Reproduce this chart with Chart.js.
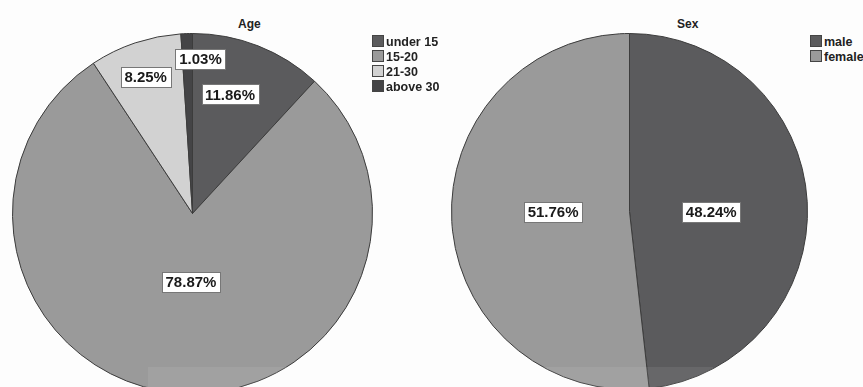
<!DOCTYPE html>
<html>
<head>
    <title>Age and Sex</title>
    <script src="https://cdn.jsdelivr.net/npm/chart.js"></script>
    <style>
        body {
            margin: 0;
            width: 863px;
            height: 387px;
            overflow: hidden;
            background: #fdfdfd;
            font-family: "Liberation Sans", Arial, sans-serif;
        }

        .pie {
            position: absolute;
        }

        .title {
            position: absolute;
            font-size: 12px;
            font-weight: bold;
            color: #222;
        }

        .legend {
            position: absolute;
            font-size: 12.5px;
            font-weight: bold;
            color: #222;
            line-height: 15px;
            white-space: nowrap;
        }

        .legend span.box {
            display: inline-block;
            width: 10px;
            height: 10px;
            border: 1px solid #444;
            margin-right: 2px;
            vertical-align: -1px;
        }

        .band {
            position: absolute;
            left: 148px;
            top: 367px;
            width: 565px;
            height: 20px;
            background: rgba(255, 255, 255, 0.08);
        }
    </style>
</head>
<body>
    <div class="pie" style="left:12px; top:33px; width:361px; height:361px;"><canvas id="age"></canvas></div>
    <div class="pie" style="left:451px; top:33px; width:357px; height:357px;"><canvas id="sex"></canvas></div>
    <div class="title" style="left:238px; top:17px;">Age</div>
    <div class="title" style="left:677px; top:17px;">Sex</div>
    <div class="legend" id="ageLegend" style="left:372px; top:35px;"></div>
    <div class="legend" id="sexLegend" style="left:810px; top:35px;"></div>
    <div class="band"></div>

    <script>
        const ageLabels = ['under 15', '15-20', '21-30', 'above 30'];
        const ageValues = [11.86, 78.87, 8.25, 1.03];
        const ageColors = ['#5b5b5d', '#9a9a9a', '#d2d2d2', '#444446'];

        const sexLabels = ['male', 'female'];
        const sexValues = [48.24, 51.76];
        const sexColors = ['#5b5b5d', '#9a9a9a'];

        // where each percentage box sits: fraction of radius along the slice middle, plus a small nudge
        const ageLabelPos = [{ r: 0.71, dx: -9, dy: 0 }, { r: 0.38, dx: 4, dy: 0 }, { r: 0.8, dx: -1, dy: 0 }, { r: 0.86, dx: 13, dy: 0 }];
        const sexLabelPos = [{ r: 0.46, dx: 0, dy: 5 }, { r: 0.43, dx: 0, dy: -4 }];

        const boxLabels = {
            id: 'boxLabels',
            afterDatasetsDraw(chart, args, opts) {
                const ctx = chart.ctx;
                const meta = chart.getDatasetMeta(0);
                const values = chart.data.datasets[0].data;
                ctx.save();
                ctx.font = 'bold 15px "Liberation Sans", Arial, sans-serif';
                ctx.textAlign = 'center';
                ctx.textBaseline = 'middle';
                meta.data.forEach((arc, i) => {
                    const p = opts.pos[i];
                    const mid = (arc.startAngle + arc.endAngle) / 2;
                    const x = arc.x + Math.cos(mid) * arc.outerRadius * p.r + p.dx;
                    const y = arc.y + Math.sin(mid) * arc.outerRadius * p.r + p.dy;
                    const text = values[i].toFixed(2) + '%';
                    const w = Math.round(ctx.measureText(text).width + 7);
                    const h = 20;
                    const bx = Math.round(x - w / 2) + 0.5;
                    const by = Math.round(y - h / 2) + 0.5;
                    ctx.fillStyle = '#ffffff';
                    ctx.fillRect(bx, by, w, h);
                    ctx.strokeStyle = '#777';
                    ctx.lineWidth = 1;
                    ctx.strokeRect(bx, by, w, h);
                    ctx.fillStyle = '#1a1a1a';
                    ctx.fillText(text, x, y + 1);
                });
                ctx.restore();
            }
        };

        function makePie(id, labels, values, colors, pos) {
            return new Chart(document.getElementById(id), {
                type: 'pie',
                data: {
                    labels: labels,
                    datasets: [{
                        data: values,
                        backgroundColor: colors,
                        borderColor: '#3c3c3c',
                        borderWidth: 1
                    }]
                },
                options: {
                    responsive: true,
                    maintainAspectRatio: false,
                    animation: false,
                    layout: { padding: 0 },
                    plugins: {
                        legend: { display: false },
                        tooltip: { enabled: false },
                        boxLabels: { pos: pos }
                    }
                },
                plugins: [boxLabels]
            });
        }

        function makeLegend(id, labels, colors) {
            const el = document.getElementById(id);
            labels.forEach((label, i) => {
                const row = document.createElement('div');
                const box = document.createElement('span');
                box.className = 'box';
                box.style.background = colors[i];
                row.appendChild(box);
                row.appendChild(document.createTextNode(label));
                el.appendChild(row);
            });
        }

        makePie('age', ageLabels, ageValues, ageColors, ageLabelPos);
        makePie('sex', sexLabels, sexValues, sexColors, sexLabelPos);
        makeLegend('ageLegend', ageLabels, ageColors);
        makeLegend('sexLegend', sexLabels, sexColors);
    </script>
</body>
</html>
